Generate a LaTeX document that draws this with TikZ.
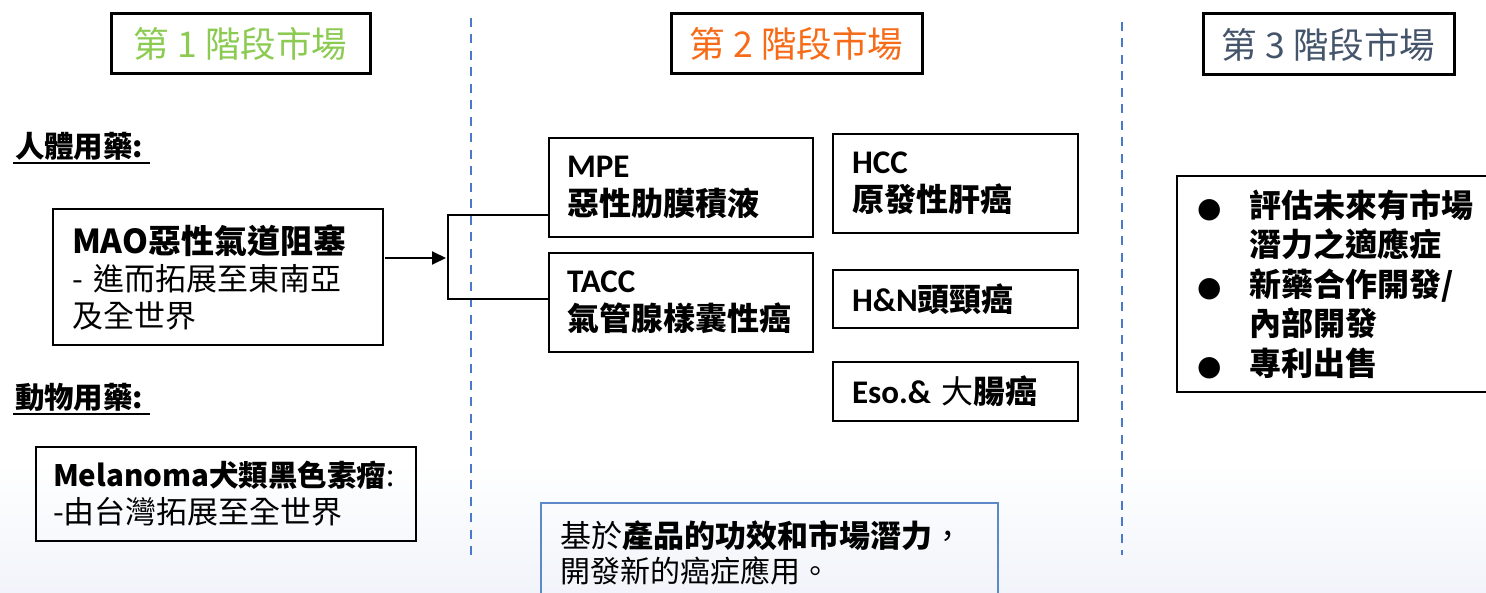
\documentclass[tikz,border=0pt]{standalone}
\usepackage{fontspec}
\setmainfont{Noto Sans CJK TC}
\newfontfamily\calfont{Carlito}
\newfontfamily\dejavu{DejaVu Sans}
\usetikzlibrary{arrows.meta}
\definecolor{stgreen}{HTML}{8CCB52}
\definecolor{storange}{HTML}{F76A17}
\definecolor{stslate}{HTML}{44546A}
\definecolor{dashblue}{HTML}{4A78CC}
\definecolor{boxblue}{HTML}{5E89C9}
\definecolor{bgtint}{HTML}{F1F4FA}
\newcommand{\fsz}[2]{\fontsize{#1}{#2}\selectfont}
\newcommand{\blt}{\makebox[52pt][l]{\dejavu\fsz{28}{28}●}}
\newcommand{\ind}{\hspace*{52pt}}
\begin{document}
\begin{tikzpicture}[x=1pt,y=-1pt,
  every node/.style={inner sep=0pt, outer sep=0pt},
  stagebox/.style={draw=black, line width=3pt, minimum height=60pt, font=\fsz{35.5}{35.5}},
  tbox/.style={draw=black, line width=2pt, align=left, inner xsep=18pt},
  sepline/.style={draw=dashblue, line width=2pt, dash pattern=on 9pt off 7.5pt},
  conn/.style={draw=black, line width=2pt},
  uline/.style={draw=black, line width=2pt},
  ]
\useasboundingbox (0,0) rectangle (1486,593);
\shade[top color=white, bottom color=bgtint] (0,460) rectangle (1486,593);

% separators
\draw[sepline] (470.5,18) -- (470.5,560);
\draw[sepline] (1121.5,22) -- (1121.5,555);

% stage headings
\node[stagebox, minimum width=259pt, text=stgreen] (s1) at (240.5,44) {第 1 階段市場};
\node[stagebox, minimum width=251pt, text=storange] (s2) at (796.5,44) {第 2 階段市場};
\node[stagebox, minimum width=251pt, minimum height=61pt, text=stslate] (s3) at (1328.5,44.5) {第 3 階段市場};

% stage 1
\node[anchor=base west, font=\fsz{29.5}{29.5}\bfseries] (hum) at (15,158) {人體用藥:};
\draw[uline] ([xshift=-2pt,yshift=-5pt]hum.base west) -- ([xshift=7pt,yshift=-5pt]hum.base east);
\node[tbox, inner xsep=19pt, minimum width=330pt, minimum height=136pt, text width=292pt,
      font=\fsz{31}{37}] (mao) at (218,277.5)
  {{\bfseries\fsz{33}{37}MAO惡性氣道阻塞}\\- 進而拓展至東南亞\\及全世界};
\node[anchor=base west, font=\fsz{29.5}{29.5}\bfseries] (ani) at (15,409) {動物用藥:};
\draw[uline] ([xshift=-2pt,yshift=-5pt]ani.base west) -- ([xshift=7pt,yshift=-5pt]ani.base east);
\node[tbox, inner xsep=17pt, minimum width=380pt, minimum height=94pt, text width=346pt,
      font=\fsz{31}{37}] (mel) at (226,494)
  {{\bfseries\fsz{29.5}{37}Melanoma犬類黑色素瘤}{\fsz{29.5}{37}:}\\-由台灣拓展至全世界};

% stage 2
\node[tbox, minimum width=264pt, minimum height=99pt, text width=228pt,
      font=\fsz{32}{38}\bfseries] (mpe) at (681,187.5)
  {{\calfont\fsz{33}{38}MPE}\\惡性肋膜積液};
\node[tbox, minimum width=264pt, minimum height=99pt, text width=228pt,
      font=\fsz{32}{38}\bfseries] (tacc) at (681,302.5)
  {{\calfont\fsz{33}{38}TACC}\\氣管腺樣囊性癌};
\node[tbox, inner xsep=19pt, minimum width=245pt, minimum height=99pt, text width=207pt,
      font=\fsz{32}{38}\bfseries] (hcc) at (955.5,183.5)
  {{\calfont\fsz{33}{38}HCC}\\原發性肝癌};
\node[tbox, inner xsep=19pt, minimum width=245pt, minimum height=58pt, text width=207pt,
      font=\fsz{32}{38}\bfseries] (hn) at (955.5,299)
  {{\calfont\fsz{33}{38}H\&N}頭頸癌};
\node[tbox, inner xsep=19pt, minimum width=245pt, minimum height=59pt, text width=207pt,
      font=\fsz{32}{38}\bfseries] (eso) at (955.5,391.5)
  {{\calfont\fsz{33}{38}Eso.\& }{\mdseries 大}腸癌};

\coordinate (br) at (448,258);
\coordinate (b1) at (448,215);
\coordinate (b2) at (448,299);
\draw[conn, -{Triangle[length=14pt,width=13pt]}, shorten <=2pt, shorten >=2pt]
  ([yshift=19.5pt]mao.east) -- (br);
\draw[conn] (mpe.west |- b1) -- (b1) -- (b2) -- (tacc.west |- b2);

\node[draw=boxblue, line width=2.5pt, anchor=north west, minimum width=457pt, minimum height=100pt,
      text width=419pt, inner xsep=19pt, align=left, font=\fsz{30}{35}] (note) at (541,503)
  {{\fsz{31}{35}基於{\bfseries 產品的功效和市場潛力}，}\\開發新的癌症應用。};

% stage 3
\node[draw=black, line width=2pt, anchor=west, minimum width=330pt, minimum height=216pt,
      text width=290pt, inner xsep=20pt, align=left, font=\fsz{32}{39.5}\bfseries] (lst) at (1177,284)
  {\blt 評估未來有市場\\\ind 潛力之適應症\\\blt 新藥合作開發/\\\ind 內部開發\\\blt 專利出售};
\end{tikzpicture}
\end{document}
